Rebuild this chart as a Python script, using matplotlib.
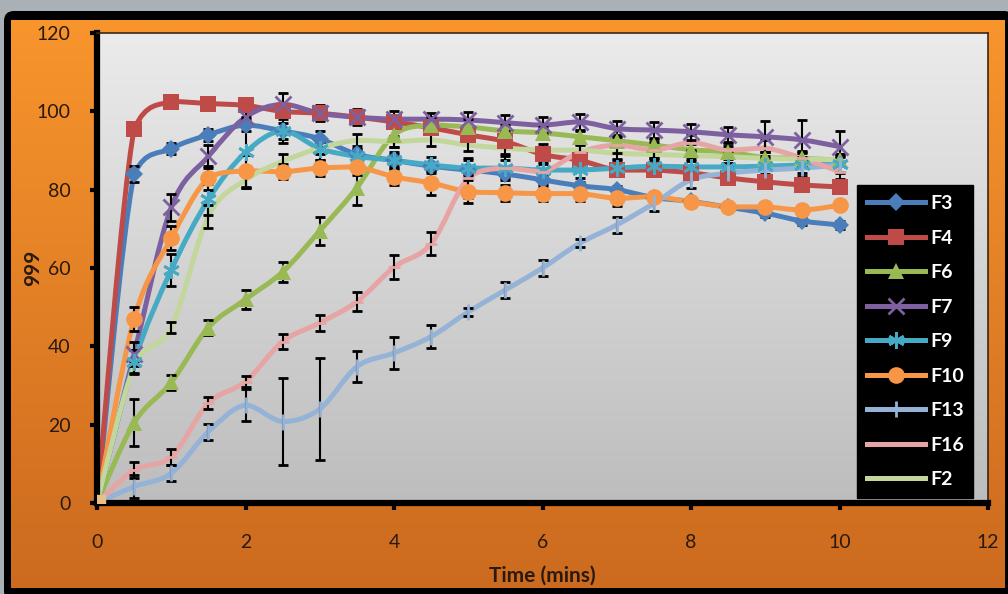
import matplotlib.pyplot as plt
import numpy as np
from matplotlib.path import Path
from matplotlib.patches import PathPatch, FancyBboxPatch
from matplotlib.lines import Line2D
from matplotlib.colors import LinearSegmentedColormap

plt.rcParams['font.family'] = ['Lato', 'DejaVu Sans']

# sampling times (mins)
time = [0, 0.5, 1, 1.5, 2, 2.5, 3, 3.5, 4, 4.5, 5, 5.5, 6, 6.5, 7, 7.5, 8, 8.5, 9, 9.5, 10]

F3 = [0, 84, 90.5, 94, 96.5, 95, 93, 89, 87.5, 86, 85, 84, 82.5, 81, 80, 78, 77, 75.5, 74, 72, 71]
F4 = [0, 95.5, 102.5, 102, 101.5, 100, 99.5, 98.5, 97.3, 95.8, 94, 92.3, 89, 87.5, 85, 85, 84.3, 83, 82, 81.2, 80.7]
F6 = [0, 20.5, 30.8, 44.8, 52, 59, 69.5, 80.5, 94, 96.5, 96, 95, 94.5, 93.5, 92.5, 91.4, 90.2, 89.6, 88.2, 88, 87.5]
F7 = [0, 38, 75.5, 88.5, 98.5, 101.8, 99.5, 98.5, 98, 98, 97.8, 97.1, 96.5, 97.3, 95.6, 95.2, 94.8, 94, 93.5, 92.7, 91]
F9 = [0, 36, 59.5, 77.5, 89.5, 95, 90.5, 88.5, 87.5, 86.3, 85.5, 85.5, 85, 85, 85.5, 86, 85.8, 85.8, 86, 86.3, 86.5]
F10 = [0, 47, 67.6, 83, 84.8, 84.6, 85.5, 85.8, 83.3, 81.7, 79.5, 79.2, 79, 79, 77.8, 78.2, 76.9, 75.6, 75.6, 74.8, 76]
F13 = [0, 4.2, 7.6, 18.2, 25, 20.8, 24, 34.8, 38.3, 42.5, 48.8, 54.4, 60, 66.3, 71, 76.5, 82.5, 84.2, 85, 85.5, 86.3]
F16 = [0, 8.4, 11.8, 25.5, 31, 41.2, 46, 51.4, 60.2, 66.2, 83, 85.5, 84.6, 89.5, 91.4, 90.1, 92, 90.1, 90.6, 88, 84.6]
F2 = [0, 34.8, 44.8, 73.2, 82.5, 87.2, 90.6, 92.6, 92.3, 92.7, 91.4, 90.6, 90.1, 90.1, 89.3, 89, 88.7, 88.4, 88, 87.8, 87.6]

F3_err = [0, 2, 1.5, 1.5, 1.5, 2, 2, 1.5, 1.5, 1, 1, 1, 1, 1, 1, 1, 1, 1, 1, 1, 1]
F4_err = [0, 1, 1, 1, 1, 1.5, 1.5, 1.5, 1.5, 1, 1.5, 1, 1, 1, 1, 1, 1, 1, 1, 1, 1]
F6_err = [0, 6, 2, 2, 2.5, 2.5, 3.5, 4.5, 3, 2, 2, 1.5, 1.5, 1.5, 1.5, 1.5, 1.5, 1.5, 1.5, 1.5, 1.5]
F7_err = [0, 3, 3.5, 3, 2, 3, 2, 2, 2, 1.5, 2, 2, 2, 2, 2, 2, 2, 2, 4, 5, 4]
F9_err = [0, 3, 4, 4, 9, 3, 3, 2, 2, 2, 2, 2, 2, 2, 2, 2, 2, 2, 2, 2, 2]
F10_err = [0, 3, 3, 3, 4, 2, 2, 2, 2, 3, 3, 2, 2, 2, 2, 1, 1, 1, 1, 1, 1]
F13_err = [0, 3, 2, 2, 4, 11, 13, 4, 4, 3, 1, 2, 2, 1, 2, 2, 2, 2, 2, 2, 2]
F16_err = [0, 2, 2, 1.5, 1.5, 2, 2, 2.5, 3, 3, 5, 3, 2, 2, 2, 2, 2, 2, 2, 2, 2]
F2_err = [0, 1.5, 1.5, 3, 2, 2, 1.5, 1.5, 1.5, 1.5, 1.5, 1.5, 1.5, 1.5, 1.5, 1.5, 1.5, 1.5, 1.5, 1.5, 1.5]

labels = ['F3', 'F4', 'F6', 'F7', 'F9', 'F10', 'F13', 'F16', 'F2']
series = [F3, F4, F6, F7, F9, F10, F13, F16, F2]
errors = [F3_err, F4_err, F6_err, F7_err, F9_err, F10_err, F13_err, F16_err, F2_err]

colors = ['#4a7ebb', '#be4b48', '#98b954', '#7d60a0', '#46aac5', '#f79646', '#95b3d7', '#e6a5a4', '#c3d69b']
markers = ['D', 's', '^', 'x', (6, 2, 0), 'o', '|', '_', None]
msizes = [9, 12, 11, 11, 12, 12, 12, 8, 0]
thin = ('x', '|', '_', (6, 2, 0))


def smooth_path(x, y):
    # cubic bezier through the points, control points kept inside each segment's range
    pts = np.column_stack([np.asarray(x, float), np.asarray(y, float)])
    n = len(pts)
    verts = [pts[0]]
    codes = [Path.MOVETO]
    for i in range(n - 1):
        p0 = pts[i - 1] if i > 0 else pts[i]
        p1 = pts[i]
        p2 = pts[i + 1]
        p3 = pts[i + 2] if i + 2 < n else pts[i + 1]
        c1 = p1 + (p2 - p0) / 6.0
        c2 = p2 - (p3 - p1) / 6.0
        lo, hi = min(p1[1], p2[1]), max(p1[1], p2[1])
        c1[1] = np.clip(c1[1], lo, hi)
        c2[1] = np.clip(c2[1], lo, hi)
        verts += [c1, c2, p2]
        codes += [Path.CURVE4] * 3
    return Path(verts, codes)


fig = plt.figure(figsize=(10.08, 5.94), dpi=100)
fig.patch.set_facecolor('#aab1b6')

# frame: black border and orange gradient panel
bg = fig.add_axes([0, 0, 1, 1])
bg.add_patch(FancyBboxPatch((4, 11), 1010, 590, boxstyle='round,pad=0,rounding_size=10',
                            facecolor='black', edgecolor='none'))
orange = LinearSegmentedColormap.from_list('org', ['#f8952d', '#cc6a1f'])
bg.imshow(np.linspace(0, 1, 256).reshape(-1, 1), cmap=orange, aspect='auto',
          extent=[11, 1005, 588, 20], zorder=1)
bg.set_xlim(0, 1008)
bg.set_ylim(594, 0)
bg.axis('off')

ax = fig.add_axes([97 / 1008, (594 - 503) / 594, (988 - 97) / 1008, (503 - 33) / 594])
grey = LinearSegmentedColormap.from_list('gry', ['#ebebeb', '#bdbdbd'])
ax.imshow(np.linspace(0, 1, 256).reshape(-1, 1), cmap=grey, aspect='auto',
          extent=[0, 12, 0, 120], zorder=0)

for y, err, c, m, ms in zip(series, errors, colors, markers, msizes):
    ax.add_patch(PathPatch(smooth_path(time, y), facecolor='none', edgecolor=c,
                           lw=3.6, capstyle='round', joinstyle='round', zorder=2))
    ax.errorbar(time[1:], y[1:], yerr=err[1:], fmt='none', ecolor='black',
                elinewidth=1.5, capsize=3.5, capthick=2, zorder=2.5)
    if m is not None:
        ax.plot(time[1:], y[1:], linestyle='none', marker=m, markersize=ms, color=c,
                markeredgewidth=2 if m in thin else 0, zorder=3)

# first point shared by all formulations
ax.plot([0], [0], marker='s', markersize=12, color='#e8c08a', zorder=3)

ax.set_xlim(0, 12)
ax.set_ylim(0, 120)
ax.set_xticks(range(0, 13, 2))
ax.set_yticks(range(0, 121, 20))

tick_col = '#2a1a0e'
ax.tick_params(axis='x', direction='out', length=5, width=3, color='black',
               labelsize=14, labelcolor=tick_col, pad=17)
ax.tick_params(axis='y', direction='out', length=5, width=3, color='black',
               labelsize=14, labelcolor=tick_col, pad=14)
for s in ['left', 'bottom']:
    ax.spines[s].set_linewidth(4.5)
    ax.spines[s].set_color('black')
for s in ['top', 'right']:
    ax.spines[s].set_linewidth(1.2)
    ax.spines[s].set_color('#3b2616')

ax.set_xlabel('Time (mins)', fontsize=15, fontweight='bold', color=tick_col, labelpad=11)
ax.set_ylabel('999', fontsize=15, fontweight='bold', color=tick_col)
ax.yaxis.set_label_coords(-0.06, 0.5)

handles = []
for c, m, ms in zip(colors, markers, msizes):
    handles.append(Line2D([], [], color=c, lw=3.6, marker=m, markersize=ms,
                          markeredgewidth=2 if m in thin else 0))
leg = ax.legend(handles, labels, loc='upper left', bbox_to_anchor=(0.853, 0.676),
                frameon=True, fancybox=False, facecolor='black', edgecolor='black',
                framealpha=1, fontsize=14, labelcolor='white', handlelength=3.0,
                handletextpad=0.25, labelspacing=0.9, borderpad=0.5, borderaxespad=0)
for t in leg.get_texts():
    t.set_fontweight('bold')
leg.set_zorder(10)

fig.savefig('out.png', dpi=100, facecolor=fig.get_facecolor())
